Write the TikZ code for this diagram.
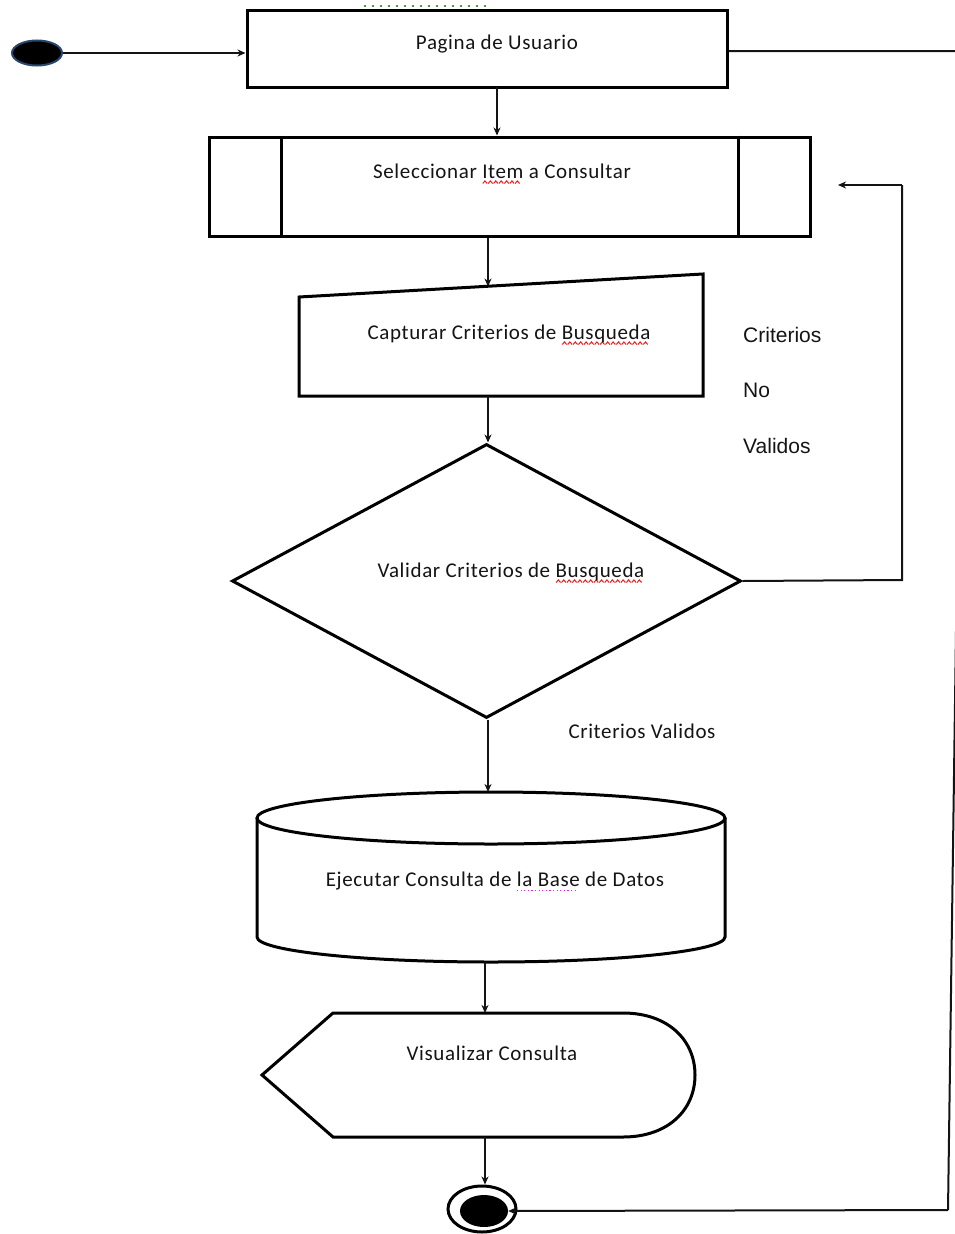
\documentclass[tikz,border=0pt]{standalone}
\usepackage{fontspec}
\setmainfont{Carlito}[LetterSpace=3]
\newfontfamily\arialfont{Liberation Sans}
\usetikzlibrary{arrows.meta,shapes.geometric,calc}
\definecolor{inkgray}{gray}{0.08}
\definecolor{startedge}{RGB}{40,70,110}
\definecolor{gramgreen}{RGB}{60,160,60}
\definecolor{spellred}{RGB}{235,30,30}
\definecolor{spellpink}{RGB}{220,40,220}
% red wavy and pink dotted underlines of the word processor
\newsavebox\wavebox
\newsavebox\dotbox
\newcommand\spellwave[1]{\setbox0\hbox{#1}\rlap{\lower6pt\hbox to \wd0{\leaders\copy\wavebox\hfill}}\box0{}}
\newcommand\spelldots[1]{\setbox0\hbox{#1}\rlap{\lower5pt\hbox to \wd0{\leaders\copy\dotbox\hfill}}\box0{}}
\begin{document}
\sbox\wavebox{\begin{pgfpicture}\pgfsetlinewidth{1pt}\pgfsetstrokecolor{spellred}%
  \pgfpathmoveto{\pgfpoint{0pt}{0pt}}\pgfpathlineto{\pgfpoint{2.2pt}{2.6pt}}%
  \pgfpathlineto{\pgfpoint{4.4pt}{0pt}}\pgfusepath{stroke}\end{pgfpicture}}
\sbox\dotbox{\hbox to 3.6pt{\textcolor{spellpink}{\rule{1.3pt}{1.3pt}}\hfil}}
\begin{tikzpicture}[x=1pt,y=-1pt,
  shapeline/.style={line width=3pt, draw=black, line join=miter},
  box/.style={shapeline, rectangle, inner sep=0pt},
  conn/.style={line width=1.5pt, draw=inkgray, -{Stealth[length=8pt,width=7pt,inset=2.5pt]}},
  loop/.style={line width=2pt, draw=inkgray},
  txt/.style={font=\fontsize{21}{25}\selectfont, text=inkgray, inner sep=0pt, anchor=base},
  lbl/.style={font=\arialfont\fontsize{21}{25}\selectfont, text=inkgray, inner sep=0pt, anchor=base west}]
\useasboundingbox (0,0) rectangle (955,1234);
\clip (0,0) rectangle (955,1234);

% grammar mark above the first box
\draw[gramgreen, line width=2pt, dash pattern=on 2pt off 6pt] (364,5.5) -- (488,5.5);

% start state
\node[ellipse, fill=black, draw=startedge, line width=2pt, minimum width=50pt, minimum height=25pt, inner sep=0pt] (ini) at (37,53) {};

% Pagina de Usuario
\node[box, minimum width=480pt, minimum height=77pt] (pag) at (487,48.5) {};
\node[txt] (pagt) at (497,49) {Pagina de Usuario};
\coordinate (pagout) at (497,87);

% predefined process
\node[box, minimum width=601pt, minimum height=99pt] (sel) at (509.5,186.5) {};
\draw[shapeline] ($(sel.north west)+(74,0)$) -- ($(sel.south west)+(74,0)$);
\draw[shapeline] ($(sel.north east)+(-73,0)$) -- ($(sel.south east)+(-73,0)$);
\node[txt] (selt) at (502,178) {Seleccionar \spellwave{Item} a Consultar};

% manual input
\draw[shapeline] (299,297) -- (703,274) -- (703,396) -- (299,396) -- cycle;
\coordinate (capin) at (488,286.5);
\coordinate (capout) at (488,396);
\node[txt] (capt) at (509,339) {Capturar Criterios de \spellwave{Busqueda}};

% decision
\node[diamond, shapeline, minimum width=509pt, minimum height=274pt, inner sep=0pt] (val) at (486.5,581) {};
\node[txt] (valt) at (511,577) {Validar Criterios de \spellwave{Busqueda}};

% database
\draw[shapeline] (491,818) ellipse [x radius=234, y radius=26];
\draw[shapeline] (257,818) -- (257,937) arc[start angle=180, end angle=0, x radius=234, y radius=25] -- (725,818);
\coordinate (dbin) at (488,792);
\coordinate (dbout) at (485,962);
\node[txt] (dbt) at (495,886) {Ejecutar Consulta de \spelldots{la Base} de Datos};

% display
\draw[shapeline] (262,1075) -- (333,1013) -- (623,1013)
  .. controls (668,1013) and (695,1040) .. (695,1075)
  .. controls (695,1110) and (668,1137) .. (623,1137) -- (333,1137) -- cycle;
\coordinate (dispin) at (485,1013);
\coordinate (dispout) at (485,1137);
\node[txt] (dispt) at (492,1060) {Visualizar Consulta};

% final state
\node[ellipse, draw=black, line width=3pt, minimum width=68pt, minimum height=46pt, inner sep=0pt] (fin) at (482,1209) {};
\node[ellipse, fill=black, minimum width=48pt, minimum height=32pt, inner sep=0pt] (finin) at (484,1211) {};

% labels
\node[lbl] (lc) at (743,342) {Criterios};
\node[lbl] (ln) at (743,397) {No};
\node[lbl] (lv) at (743,453) {Validos};
\node[txt] (lok) at (642,738) {Criterios Validos};

% connectors
\draw[conn] (ini.east) -- (ini.east -| pag.west);
\draw[conn] (pagout) -- (pagout |- sel.north);
\draw[conn] (sel.south -| capin) -- (capin);
\draw[conn] (capout) -- (capout |- val.north);
\draw[conn] (val.south -| dbin) -- (dbin);
\draw[conn] (dbout) -- (dispin);
\draw[conn] (dispout) -- (fin.north -| dispout);

% return for invalid criteria
\coordinate (selin) at (838,185);
\draw[loop] (val.east) -- (902,580) -- (902,185);
\draw[conn, line width=2pt] (902,185) -- (selin);

% exit from the user page
\coordinate (edgetop) at (964,51);
\coordinate (edgebot) at (948,1210);
\draw[loop] ($(pag.east)+(0,2.5)$) -- (edgetop) -- (edgebot);
\draw[conn, line width=2pt] (edgebot) -- (finin.east);
\end{tikzpicture}
\end{document}
